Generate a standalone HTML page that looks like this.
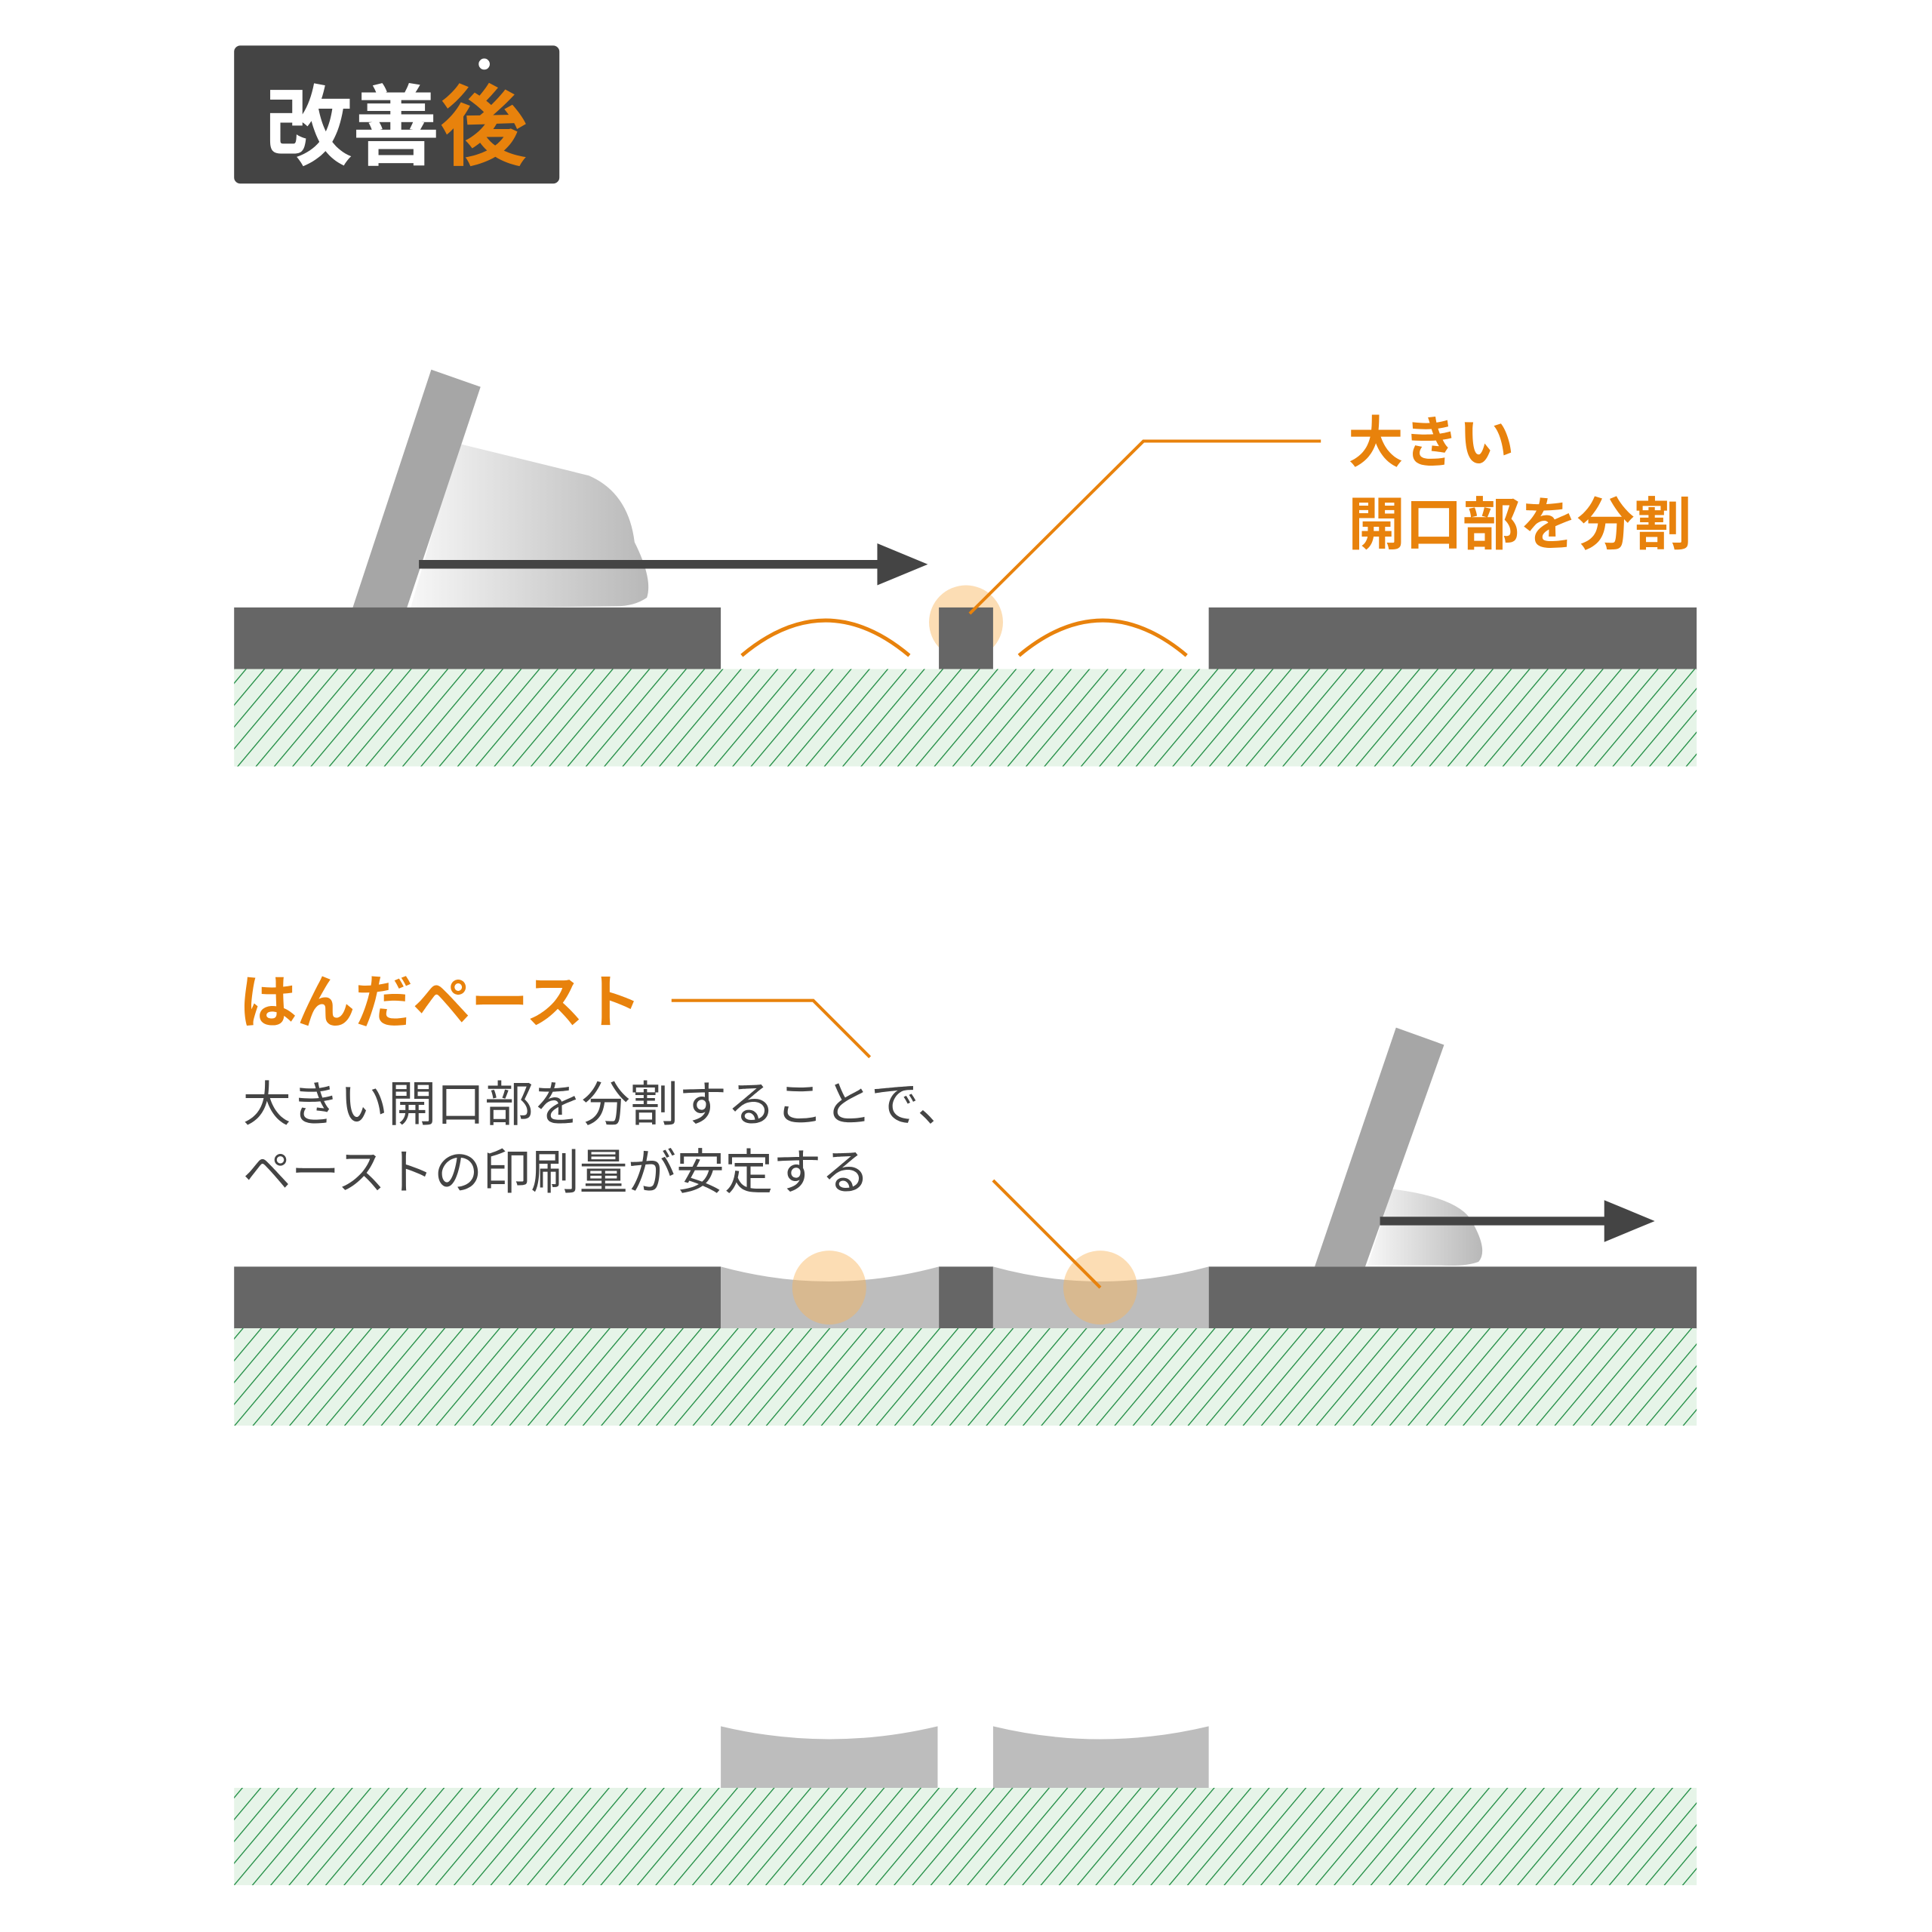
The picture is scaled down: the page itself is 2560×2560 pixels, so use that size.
<!DOCTYPE html>
<html><head><meta charset="utf-8"><style>
html,body{margin:0;padding:0;background:#fff}
svg{display:block}
text{font-family:"Liberation Sans","Noto Sans CJK JP",sans-serif}
</style></head><body>
<svg width="2560" height="2560" viewBox="0 0 1568 1568" xmlns="http://www.w3.org/2000/svg">
<defs>
<pattern id="h" patternUnits="userSpaceOnUse" width="11.4" height="11.4" patternTransform="rotate(40)">
<rect width="11.4" height="11.4" fill="#e6f4e8"/>
<line x1="0" y1="0" x2="0" y2="11.4" stroke="#1a8a3e" stroke-width="1.6"/>
</pattern>
<linearGradient id="g" x1="0" x2="1" y1="0" y2="0">
<stop offset="0" stop-color="#f7f7f7"/><stop offset="1" stop-color="#b8b8b8"/>
</linearGradient>
</defs>
<rect x="190" y="37" width="264" height="112" rx="5" fill="#444"/>
<text x="215" y="128" font-size="71" font-weight="bold" fill="#fff">改善<tspan fill="#e8820c">後</tspan></text>
<circle cx="393" cy="52" r="4.5" fill="#fff"/>

<!-- panel 1 -->
<path d="M333,494 L372,360 L478,386 Q510,400 515,440 Q530,470 525,485 Q515,492 500,492 Z" fill="url(#g)"/>
<polygon points="350,300 390,314 330,494 286,494" fill="#a6a6a6"/>
<line x1="340" y1="458" x2="716" y2="458" stroke="#444" stroke-width="7"/>
<polygon points="712,441 753,458 712,475" fill="#444"/>
<circle cx="784" cy="505" r="30" fill="#f8b458" opacity="0.45"/>
<rect x="190" y="493" width="395" height="51" fill="#666"/>
<rect x="981" y="493" width="396" height="51" fill="#666"/>
<rect x="762" y="493" width="44" height="51" fill="#666"/>
<rect x="190" y="543" width="1187" height="79" fill="url(#h)"/>
<path d="M602,532 Q670,475 738,532" fill="none" stroke="#e8820c" stroke-width="3"/>
<path d="M827,532 Q895,475 963,532" fill="none" stroke="#e8820c" stroke-width="3"/>
<polyline points="787,498 928,358 1072,358" fill="none" stroke="#e8820c" stroke-width="2.5"/>
<text x="1094" y="375" font-size="45" font-weight="bold" fill="#e8820c">大きい</text>
<text x="1094" y="442" font-size="46.5" font-weight="bold" fill="#e8820c">開口部を分割</text>

<!-- panel 2 -->
<text x="194" y="830" font-size="47" font-weight="bold" fill="#e8820c">はんだペースト</text>
<polyline points="545,812 660,812 706,858" fill="none" stroke="#e8820c" stroke-width="2.5"/>
<text x="197" y="910" font-size="39.3" fill="#444">大きい開口部を分割することで、</text>
<text x="197" y="965" font-size="39.3" fill="#444">ペーストの印刷量が安定する</text>
<path d="M1110,1027 L1130,965 Q1185,972 1195,992 Q1208,1015 1200,1024 Q1190,1028 1170,1027 Z" fill="url(#g)"/>
<polygon points="1133,834 1172,848 1108,1028 1067,1028" fill="#a6a6a6"/>
<line x1="1120" y1="991" x2="1306" y2="991" stroke="#444" stroke-width="7"/>
<polygon points="1302,974 1343,991 1302,1008" fill="#444"/>
<rect x="190" y="1028" width="395" height="51" fill="#666"/>
<rect x="981" y="1028" width="396" height="51" fill="#666"/>
<rect x="762" y="1028" width="44" height="51" fill="#666"/>
<path d="M585,1028 Q673,1052 762,1028 L762,1079 L585,1079 Z" fill="#bdbdbd"/>
<path d="M806,1028 Q893,1052 981,1028 L981,1079 L806,1079 Z" fill="#bdbdbd"/>
<rect x="190" y="1078" width="1187" height="79" fill="url(#h)"/>
<circle cx="673" cy="1045" r="30" fill="#f8b458" opacity="0.45"/>
<circle cx="893" cy="1045" r="30" fill="#f8b458" opacity="0.45"/>
<line x1="806" y1="958" x2="893" y2="1045" stroke="#e8820c" stroke-width="2.5"/>

<!-- panel 3 -->
<path d="M585,1401 Q673,1422 761,1401 L761,1452 L585,1452 Z" fill="#bdbdbd"/>
<path d="M806,1401 Q893,1422 981,1401 L981,1452 L806,1452 Z" fill="#bdbdbd"/>
<rect x="190" y="1451" width="1187" height="79" fill="url(#h)"/>
</svg>
</body></html>
